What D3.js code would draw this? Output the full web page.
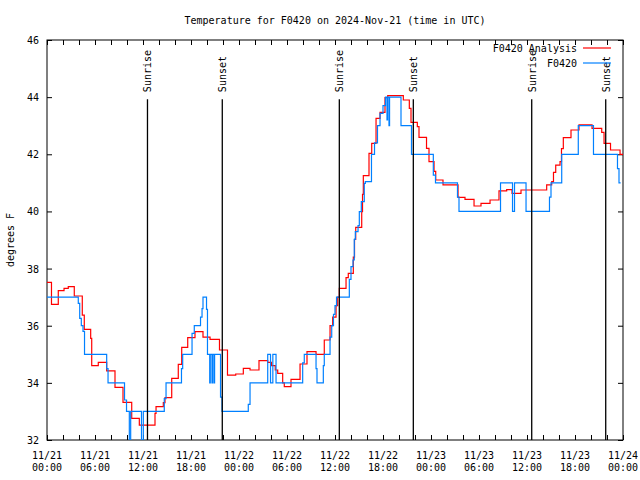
<!DOCTYPE html>
<html><head><meta charset="utf-8">
<script src="https://cdn.jsdelivr.net/npm/d3@7/dist/d3.min.js"></script>
<style>body{margin:0;background:#fff}svg{display:block}text{font-family:"DejaVu Sans Mono",monospace;font-size:10px;fill:#000}</style>
</head><body><svg id="c" width="640" height="480"></svg>
<script>
// ---- data (hours since 2024-11-21 00:00 UTC) ----
const analysisHours = [0,0.56,1.41,2.13,2.66,3.41,4.41,4.66,5.46,5.59,6.41,7.46,8.5,9.5,10.59,11.54,13.5,13.63,14.54,14.75,15.59,16.41,16.84,17.59,18.5,19.5,20.38,21.56,22.56,23.59,24.54,25.38,26.5,27.59,28.06,28.53,28.84,29.46,29.66,30.5,31.63,32.5,33.63,34.66,35.38,35.71,36.13,36.34,36.54,37.38,37.66,38.29,38.44,38.59,39.34,39.44,39.54,40.25,40.59,41.13,41.63,42.25,42.59,44.54,45.29,45.5,46.29,46.5,47.44,47.75,48.38,48.59,49.5,51.38,52.25,53.38,54.25,55.38,56.5,57.46,58.13,59.25,62.46,63.09,63.31,63.59,64.13,64.31,64.54,65.5,66.5,68.13,69.34,69.63,70.44,71.63,72];
const analysisValues = [37.52,36.75,37.23,37.31,37.37,37.04,36.37,35.87,35.56,34.6,34.72,34.42,33.84,33.32,32.76,32.52,32.93,33.17,33.31,33.48,34.16,34.65,35.24,35.58,35.79,35.6,35.52,35.15,34.27,34.31,34.51,34.45,34.78,34.72,34.6,34.45,34.33,34.0,33.87,34.12,34.66,35.09,35.0,35.5,36.0,36.3,36.7,37.0,37.31,37.68,37.83,38.4,39.02,39.44,39.99,40.6,41.25,42.03,42.38,43.26,43.47,43.98,44.05,43.9,43.61,43.12,42.97,42.59,42.21,41.74,41.4,41.1,40.93,40.49,40.42,40.19,40.28,40.4,40.72,40.76,40.63,40.75,40.93,41.04,41.37,41.62,41.74,42.2,42.58,42.85,43.03,42.91,42.77,42.38,42.15,42.0,42.0];
const obsHours = [0,3.91,4.09,4.29,4.5,4.69,7.46,7.63,9.69,9.94,10.29,10.46,11.81,12.04,14.66,14.88,16.81,16.96,18.13,18.41,19.19,19.38,19.5,19.94,20.06,20.34,20.41,20.62,20.7,20.88,20.95,21.69,21.88,25.16,25.38,27.59,27.94,28.23,28.63,31.96,32.16,33.63,33.75,34.54,34.66,35.38,35.59,35.81,36.0,36.19,37.79,38.0,38.25,38.41,38.54,38.88,39.04,39.29,39.66,39.79,40.56,40.94,41.31,41.63,42.0,42.31,42.5,42.57,42.75,42.82,44.25,45.56,48.29,48.56,51.31,51.5,56.69,58.19,58.44,59.88,62.81,63.0,64.34,66.41,68.31,71.31,71.5,71.7];
const obsValues = [37,36.78,36.26,36.0,35.8,35.0,34.5,34.0,33.4,33.0,32.0,33.0,32.0,33.0,33.45,34.0,34.5,35.0,35.73,36.0,36.3,36.6,37.0,36.57,35.0,34.0,35.0,34.0,35.0,34.0,35.0,33.5,33.0,33.25,34.0,35.0,34.0,35.0,34.0,34.7,35.0,34.5,34.0,34.6,35.0,35.6,36.0,36.4,36.7,37.0,37.62,38.07,38.3,39.02,39.29,39.5,39.99,40.34,40.98,41.04,42.0,42.4,43.0,43.43,43.7,44.0,43.2,44.0,43.0,44.0,43.0,42.0,41.27,41.0,40.5,40.0,41.0,40.0,41.0,40.0,40.5,41.0,42.0,43.0,42.0,41.5,41.0,41.0];
const sunHours = [12.56,21.91,36.54,45.79,60.59,69.84];
const sunLabels = ["Sunrise","Sunset","Sunrise","Sunset","Sunrise","Sunset"];
const yTicks = [32,34,36,38,40,42,44,46];
const xTickDates = ["11/21","11/21","11/21","11/21","11/22","11/22","11/22","11/22","11/23","11/23","11/23","11/23","11/24"];
const xTickTimes = ["00:00","06:00","12:00","18:00","00:00","06:00","12:00","18:00","00:00","06:00","12:00","18:00","00:00"];
const seriesNames = ["F0420 Analysis","F0420"];
const seriesColors = ["#ff0000","#0080ff"];
const title = "Temperature for F0420 on 2024-Nov-21 (time in UTC)";
const yLabel = "degrees F";

// ---- layout ----
const L = 47, R = 623, T = 40, B = 440;
const base = Date.UTC(2024,10,21);
const toDate = h => new Date(base + h*3600000);
const x = d3.scaleUtc().domain([toDate(0), toDate(72)]).range([L, R]);
const y = d3.scaleLinear().domain([32,46]).range([B, T]);
const svg = d3.select("#c");

svg.append("defs").append("clipPath").attr("id","clip")
  .append("rect").attr("x",L).attr("y",T).attr("width",R-L).attr("height",B-T);

// axes (inward ticks, gnuplot style)
const minorTicks = d3.range(0,73,2).map(toDate);
const majorTicks = d3.range(0,73,6).map(toDate);
svg.append("g").attr("transform",`translate(0,${B})`)
  .call(d3.axisBottom(x).tickValues(minorTicks).tickSize(-5).tickFormat(""))
  .call(g=>g.select(".domain").remove());
svg.append("g").attr("transform",`translate(0,${T})`)
  .call(d3.axisTop(x).tickValues(minorTicks).tickSize(-5).tickFormat(""))
  .call(g=>g.select(".domain").remove());
svg.append("g").attr("transform",`translate(${L},0)`)
  .call(d3.axisLeft(y).tickValues(yTicks).tickSize(-5).tickPadding(8).tickFormat(d3.format("d")))
  .call(g=>g.select(".domain").remove())
  .call(g=>g.selectAll("text").style("font-family",'"DejaVu Sans Mono",monospace').style("font-size","10px").attr("dy","0.35em"));
svg.append("g").attr("transform",`translate(${R},0)`)
  .call(d3.axisRight(y).tickValues(yTicks).tickSize(-5).tickFormat(""))
  .call(g=>g.select(".domain").remove());
svg.selectAll(".tick line").attr("stroke","#000");

// x labels (two lines)
const xl = svg.append("g");
majorTicks.forEach((d,i)=>{
  const t = xl.append("text").attr("x",x(d)).attr("text-anchor","middle");
  t.append("tspan").attr("x",x(d)).attr("y",B+19).text(xTickDates[i]);
  t.append("tspan").attr("x",x(d)).attr("y",B+31).text(xTickTimes[i]);
});

// border
svg.append("rect").attr("x",L).attr("y",T).attr("width",R-L).attr("height",B-T)
  .attr("fill","none").attr("stroke","#000").attr("stroke-width",1);

// lines
const line = d3.line().curve(d3.curveStepAfter).x(d=>x(toDate(d[0]))).y(d=>y(d[1]));
const plot = svg.append("g").attr("clip-path","url(#clip)");
plot.append("path").datum(analysisHours.map((h,i)=>[h,analysisValues[i]]))
  .attr("d",line).attr("fill","none").attr("stroke",seriesColors[0]).attr("stroke-width",1.2);
plot.append("path").datum(obsHours.map((h,i)=>[h,obsValues[i]]))
  .attr("d",line).attr("fill","none").attr("stroke",seriesColors[1]).attr("stroke-width",1.2);

// sunrise/sunset
sunHours.forEach((h,i)=>{
  const sx = x(toDate(h));
  svg.append("line").attr("x1",sx).attr("x2",sx).attr("y1",y(44)+2).attr("y2",B)
    .attr("stroke","#000").attr("stroke-width",1.3);
  svg.append("text").attr("transform",`translate(${sx+4},${y(44)-5}) rotate(-90)`)
    .attr("text-anchor","start").text(sunLabels[i]);
});

// title & y label
svg.append("text").attr("x",(L+R)/2).attr("y",24).attr("text-anchor","middle").text(title);
svg.append("text").attr("transform",`translate(14,${(T+B)/2}) rotate(-90)`).attr("text-anchor","middle").text(yLabel);

// legend
seriesNames.forEach((n,i)=>{
  const ly = 48 + i*15;
  svg.append("text").attr("x",577).attr("y",ly+4).attr("text-anchor","end").text(n);
  svg.append("line").attr("x1",583).attr("x2",611).attr("y1",ly).attr("y2",ly)
    .attr("stroke",seriesColors[i]).attr("stroke-width",1.2);
});
</script></body></html>
